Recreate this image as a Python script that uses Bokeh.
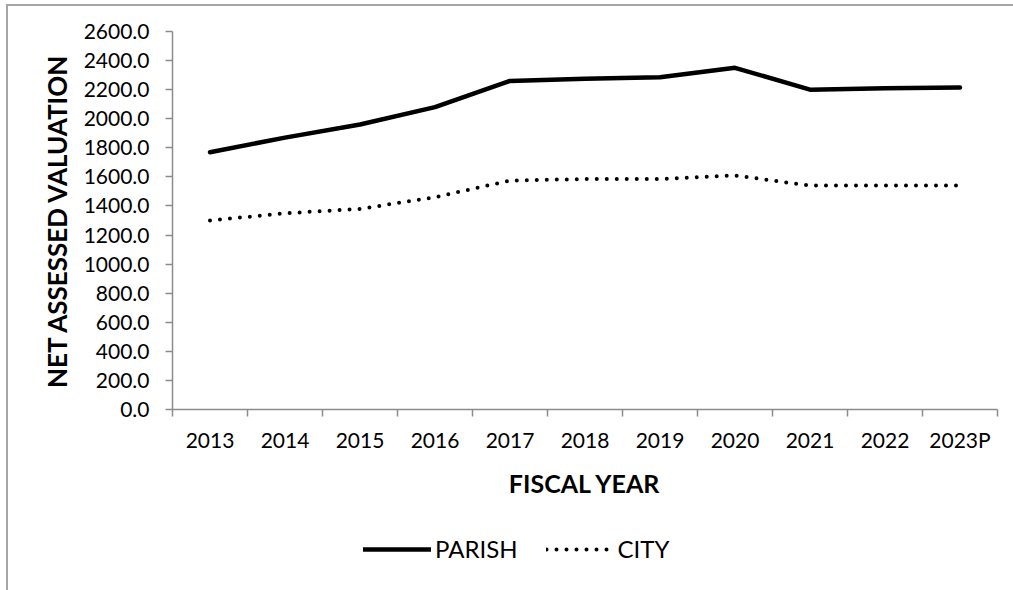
from bokeh.plotting import figure
from bokeh.layouts import column
from bokeh.models import Range1d, FixedTicker, NumeralTickFormatter, Legend, LegendItem
from bokeh.embed import file_html
from bokeh.resources import INLINE

years = ["2013", "2014", "2015", "2016", "2017", "2018", "2019", "2020", "2021", "2022", "2023P"]
parish = [1770, 1870, 1960, 2080, 2260, 2275, 2285, 2350, 2200, 2210, 2215]
city = [1300, 1350, 1380, 1460, 1575, 1585, 1585, 1610, 1540, 1540, 1540]
y_ticks = [0, 200, 400, 600, 800, 1000, 1200, 1400, 1600, 1800, 2000, 2200, 2400, 2600]

xs = list(range(len(years)))
FONT = "Lato"
AXIS_GRAY = "#8c8c8c"
PARISH_STYLE = dict(line_color="black", line_width=4.5, line_join="round", line_cap="round")
CITY_STYLE = dict(line_color="black", line_width=4, line_dash="0 10", line_cap="round")

p = figure(frame_width=825, frame_height=378,
           min_border_left=164, min_border_right=16, min_border_top=25, min_border_bottom=100,
           x_range=Range1d(-0.5, len(years) - 0.5), y_range=Range1d(0, 2600),
           output_backend="svg", toolbar_location=None)
p.outline_line_color = None
p.grid.visible = False
p.background_fill_color = "white"
p.border_fill_color = "white"

p.line(xs, parish, **PARISH_STYLE)
p.line(xs, city, **CITY_STYLE)

# x axis: labels at centres, ticks at category boundaries
xa = p.xaxis[0]
xa.ticker = FixedTicker(ticks=xs, minor_ticks=[i - 0.5 for i in range(len(years) + 1)])
xa.major_label_overrides = {i: y for i, y in enumerate(years)}
xa.major_tick_line_color = None
xa.minor_tick_line_color = AXIS_GRAY
xa.minor_tick_line_width = 1.5
xa.minor_tick_in = 0
xa.minor_tick_out = 7
xa.axis_line_color = AXIS_GRAY
xa.axis_line_width = 1.5
xa.major_label_text_font = FONT
xa.major_label_text_font_size = "21px"
xa.major_label_text_color = "black"
xa.major_label_standoff = 10
xa.axis_label = "FISCAL YEAR"
xa.axis_label_text_font = FONT
xa.axis_label_text_font_size = "25px"
xa.axis_label_text_font_style = "bold"
xa.axis_label_text_color = "black"
xa.axis_label_standoff = 13

ya = p.yaxis[0]
ya.ticker = FixedTicker(ticks=y_ticks, minor_ticks=[])
ya.formatter = NumeralTickFormatter(format="0.0")
ya.major_tick_line_color = AXIS_GRAY
ya.major_tick_line_width = 1.5
ya.major_tick_in = 0
ya.major_tick_out = 7
ya.axis_line_color = AXIS_GRAY
ya.axis_line_width = 1.5
ya.major_label_text_font = FONT
ya.major_label_text_font_size = "21px"
ya.major_label_text_color = "black"
ya.major_label_standoff = 16
ya.axis_label = "NET ASSESSED VALUATION"
ya.axis_label_text_font = FONT
ya.axis_label_text_font_size = "26px"
ya.axis_label_text_font_style = "bold"
ya.axis_label_text_color = "black"
ya.axis_label_standoff = 8

# legend strip below the chart (its series lie outside its own view; only the legend shows)
lg = figure(width=1005, height=81, min_border=0, x_range=Range1d(0, 1), y_range=Range1d(0, 1),
            output_backend="svg", toolbar_location=None)
lg.axis.visible = False
lg.grid.visible = False
lg.outline_line_color = None
l1 = lg.line(xs, parish, **PARISH_STYLE)
l2 = lg.line(xs, city, **CITY_STYLE)
legend = Legend(items=[LegendItem(label="PARISH", renderers=[l1]),
                       LegendItem(label="CITY", renderers=[l2])],
                orientation="horizontal", location=(191, 27),
                glyph_width=68, glyph_height=24, label_standoff=4, spacing=28,
                padding=0, margin=0, border_line_color=None, background_fill_alpha=0,
                label_text_font=FONT, label_text_font_size="24px", label_text_color="black")
lg.add_layout(legend, "center")

layout = column(p, lg, spacing=0)
layout.margin = (4, 0, 0, 6)
layout.styles = {"border-top": "2px solid #a6a6a6", "border-left": "2px solid #a6a6a6"}

open("out.html", "w").write(file_html(layout, INLINE))
